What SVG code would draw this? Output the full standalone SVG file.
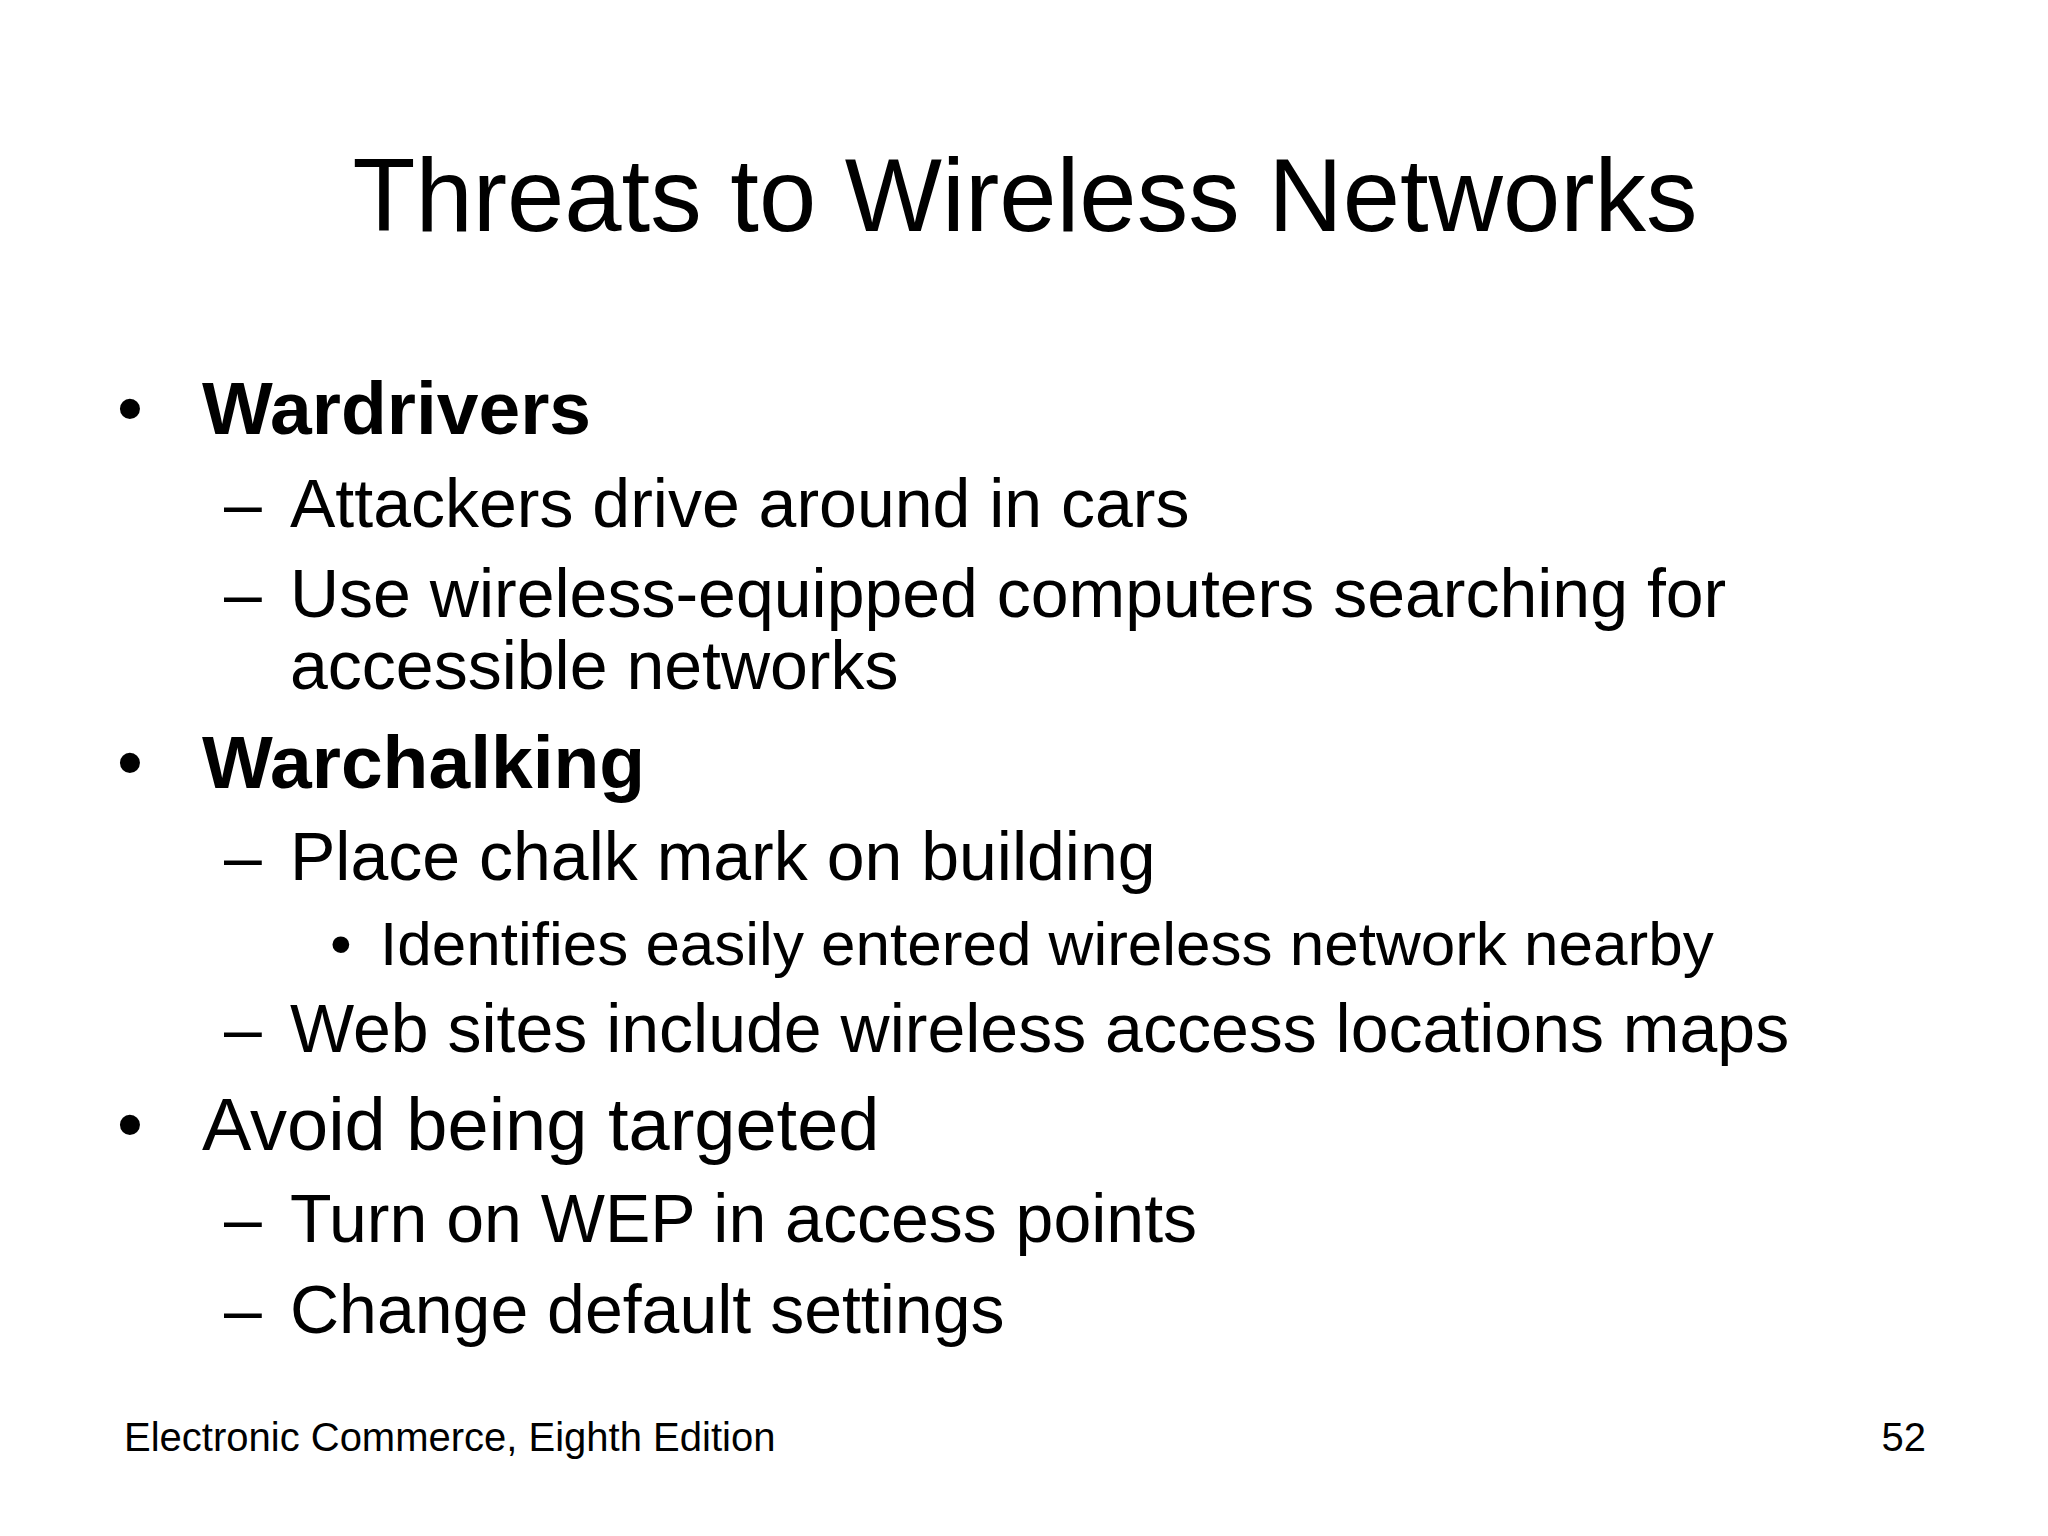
<svg xmlns="http://www.w3.org/2000/svg" width="2048" height="1536" viewBox="0 0 2048 1536">
<style>
text{font-family:"Liberation Sans",Arial,sans-serif;fill:#000}
.t{font-size:103px}
.b1{font-size:74px}
.b{font-weight:bold;font-size:75px}
.s{font-size:68px}
.s3{font-size:62px}
.f{font-size:40px}
</style>
<rect width="2048" height="1536" fill="#fff"/>
<g id="title"><text class="t" x="1025" y="231" text-anchor="middle">Threats to Wireless Networks</text></g>
<g id="body">
<text class="b1" x="117" y="434">•</text><text class="b" x="202" y="434">Wardrivers</text>
<text class="s" x="224" y="527">–</text><text class="s" x="290" y="527">Attackers drive around in cars</text>
<text class="s" x="224" y="617">–</text><text class="s" x="290" y="617">Use wireless-equipped computers searching for</text>
<text class="s" x="290" y="689">accessible networks</text>
<text class="b1" x="117" y="788">•</text><text class="b" x="202" y="788">Warchalking</text>
<text class="s" x="224" y="880">–</text><text class="s" x="290" y="880">Place chalk mark on building</text>
<text class="s3" x="330" y="965">•</text><text class="s3" x="380" y="965">Identifies easily entered wireless network nearby</text>
<text class="s" x="224" y="1052">–</text><text class="s" x="290" y="1052">Web sites include wireless access locations maps</text>
<text class="b1" x="117" y="1150">•</text><text class="b1" x="202" y="1150">Avoid being targeted</text>
<text class="s" x="224" y="1242">–</text><text class="s" x="290" y="1242">Turn on WEP in access points</text>
<text class="s" x="224" y="1333">–</text><text class="s" x="290" y="1333">Change default settings</text>
</g>
<g id="footer">
<text class="f" x="124" y="1451">Electronic Commerce, Eighth Edition</text>
<text class="f" x="1926" y="1451" text-anchor="end">52</text>
</g>
</svg>
